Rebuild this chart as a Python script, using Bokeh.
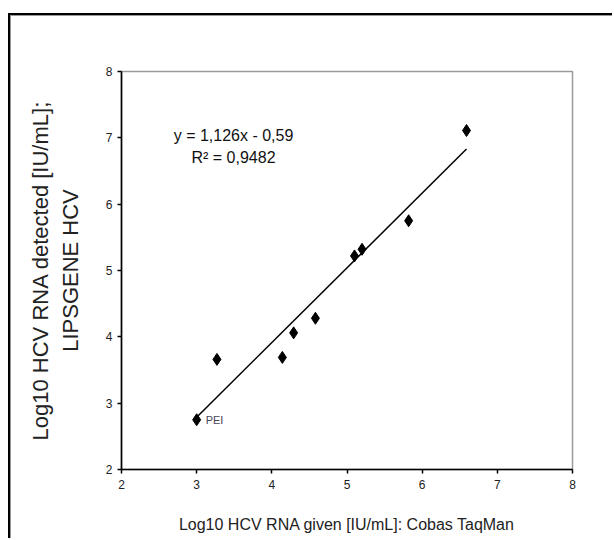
from bokeh.plotting import figure
from bokeh.embed import file_html
from bokeh.resources import INLINE
from bokeh.models import Range1d, FixedTicker
from bokeh.core.properties import value

# Data
x_given = [3.00, 3.27, 4.14, 4.29, 4.58, 5.10, 5.20, 5.82, 6.59]
y_detected = [2.75, 3.66, 3.69, 4.06, 4.28, 5.22, 5.32, 5.75, 7.11]
slope = 1.126
intercept = -0.59
eq_lines = ["y = 1,126x - 0,59", "R² = 0,9482"]
x_ticks = [2, 3, 4, 5, 6, 7, 8]
y_ticks = [2, 3, 4, 5, 6, 7, 8]
point_label = "PEI"

FONT = "Liberation Sans"

p = figure(width=612, height=538, output_backend="svg", toolbar_location=None,
           x_range=Range1d(2, 8), y_range=Range1d(2, 8),
           min_border_left=121, min_border_top=71, min_border_right=40,
           min_border_bottom=69)
p.styles = {
    "background": ("linear-gradient(#000,#000) 8px 13px / 100% 2px no-repeat,"
                   "linear-gradient(#000,#000) 8px 13px / 2px 100% no-repeat,"
                   "linear-gradient(#999,#999) 10px 15px / 100% 1px no-repeat,"
                   "linear-gradient(#999,#999) 10px 15px / 1px 100% no-repeat,"
                   "#fff"),
}
p.border_fill_alpha = 0
p.background_fill_color = "white"
p.outline_line_color = "#9a9a9a"
p.outline_line_width = 1.5
p.grid.visible = False

for ax in (p.xaxis[0], p.yaxis[0]):
    ax.axis_line_color = "black"
    ax.axis_line_width = 1.6
    ax.major_tick_line_color = "black"
    ax.major_tick_line_width = 1.5
    ax.major_tick_out = 4
    ax.major_tick_in = 0
    ax.minor_tick_line_color = None
    ax.major_label_text_font = FONT
    ax.major_label_text_font_size = "12px"
    ax.major_label_text_color = "#222"

p.xaxis.ticker = FixedTicker(ticks=x_ticks)
p.yaxis.ticker = FixedTicker(ticks=y_ticks)
p.xaxis.major_label_standoff = 6
p.yaxis.major_label_standoff = 5

p.xaxis.axis_label = "Log10 HCV RNA given [IU/mL]: Cobas TaqMan"
p.xaxis.axis_label_text_font = FONT
p.xaxis.axis_label_text_font_size = "16px"
p.xaxis.axis_label_text_font_style = "normal"
p.xaxis.axis_label_text_color = "#222"
p.xaxis.axis_label_standoff = 24

p.yaxis.axis_label = "Log10 HCV RNA detected [IU/mL];\nLIPSGENE HCV"
p.yaxis.axis_label_text_font = FONT
p.yaxis.axis_label_text_font_size = "22px"
p.yaxis.axis_label_text_font_style = "normal"
p.yaxis.axis_label_text_color = "#222"
p.yaxis.axis_label_standoff = 20

# trendline over data range
xs_line = [min(x_given), max(x_given)]
ys_line = [slope * v + intercept for v in xs_line]
p.line(xs_line, ys_line, line_color="black", line_width=1.5)

p.scatter(x_given, y_detected, marker="diamond", size=12,
          fill_color="black", line_color="black")

p.text(x=[x_given[0]], y=[y_detected[0]], text=[point_label],
       x_offset=9, text_baseline="middle", text_align="left",
       text_font=value(FONT), text_font_size="11px", text_color="#445")

p.text(x=[3.49, 3.49], y=[7.04, 6.71], text=eq_lines,
       text_align="center", text_baseline="middle",
       text_font=value(FONT), text_font_size="16px", text_color="#111")

open("out.html", "w").write(file_html(p, INLINE))
